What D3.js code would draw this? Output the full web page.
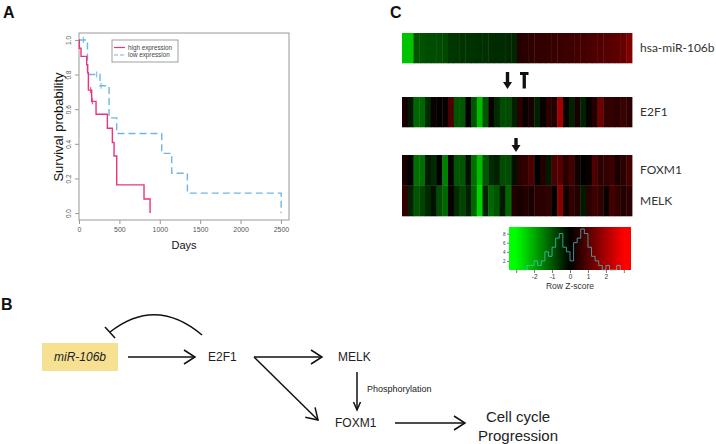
<!DOCTYPE html>
<html><head><meta charset="utf-8">
<script src="https://cdn.jsdelivr.net/npm/d3@7/dist/d3.min.js"></script>
<style>body{margin:0;background:#fff}svg{display:block}</style>
</head><body><svg id="c" width="716" height="444"></svg>
<script>
// ---------- Panel A data ----------
const highTimes = [0, 4, 25, 95, 107, 116, 157, 211, 351, 413, 434, 467, 805, 880];
const highSurv  = [1, 0.952, 0.905, 0.857, 0.81, 0.71, 0.645, 0.571, 0.49, 0.408, 0.33, 0.163, 0.081, 0];
const lowTimes  = [0, 105, 260, 372, 467, 1024, 1148, 1342, 2503];
const lowSurv   = [1, 0.8, 0.735, 0.55, 0.46, 0.345, 0.23, 0.115, 0];
const highCensorT = [145, 165];
const highCensorS = [0.71, 0.645];
const lowCensorT = [54, 219, 273];
const lowCensorS = [1, 0.8, 0.735];
const kmXTicks = [0, 500, 1000, 1500, 2000, 2500];
const kmYTicks = [0, 0.2, 0.4, 0.6, 0.8, 1.0];
const legendLabels = ["high expression", "low expression"];

// ---------- Panel C data ----------
const geneNames = ["hsa-miR-106b", "E2F1", "FOXM1", "MELK"];
const mirRow = [-2.3,-2.3,-0.95,-0.95,-0.9,-0.9,-0.88,-0.85,-0.65,-0.62,-0.6,-0.6,-0.58,-0.56,-0.55,-0.52,-0.5,-0.5,-0.48,-0.45,
                0.45,0.5,0.55,0.58,0.6,0.62,0.65,0.68,0.7,0.72,0.75,0.8,0.85,0.9,0.95,1.0,1.05,1.1,1.2,1.5];
const e2f1Row = [0.3,-0.3,-1.2,-1.2,-0.5,0.1,0.05,0.1,0.9,-1.0,-1.0,0.0,-1.0,-2.2,-1.0,0.1,-0.5,-0.9,-0.9,-0.4,
                 0.5,0.1,0.3,-0.4,0.1,0.5,0.4,1.9,0.1,-0.4,0.3,-0.4,0.1,0.4,1.3,0.6,0.6,0.5,0.7,0.5];
const foxm1Row = [0.3,0,-1.3,-1.3,-0.3,-0.5,0,-1.5,0.1,-1.0,-1.0,-0.2,-1.3,-2.2,-1.0,-0.5,-0.4,-0.9,-0.9,-0.2,
                  0.5,0.6,0.9,0,0.4,-0.3,0.9,1.0,0.5,0.8,0.2,0,0.1,0.9,0.5,0.6,0.7,0.3,0.5,0.8];
const melkRow = [0.6,-0.4,-1.0,-0.8,-0.5,-0.2,-0.9,-1.2,0.1,-0.5,-0.8,-0.4,-1.2,-2.5,-0.4,-1.2,-1.0,-0.3,-1.2,0.4,
                 0.3,0.4,0.3,0.5,0.5,0.6,0,1.6,0.2,0.6,0.4,-0.3,0.5,0.7,0.6,0.1,0.8,0.6,0.4,0.5];
const histBinStart = [-2.6,-2.4,-2.2,-2.0,-1.8,-1.6,-1.4,-1.2,-1.0,-0.8,-0.6,-0.4,-0.2,0.0,0.2,0.4,0.6,0.8,1.0,1.2,1.4,1.6,1.8,2.0,2.2,2.4,2.6];
const histCounts   = [0,1,1,2,1,2,4,3,5,7,8,5,4,2,6,7,9,8,5,3,2,1,0,1,0,0,1];
const keyTicks = [-3,-2,-1,0,1,2,3];
const keyLabels = ["", "-2", "-1", "0", "1", "2", ""];
const histYTicks = [2,4,6,8];

const svg = d3.select("#c");
const SANS = "Arial, 'Liberation Sans', sans-serif";

// Panel letters
[["A",3,18],["B",1,310],["C",390,18]].forEach(([t,x,y]) =>
  svg.append("text").attr("x",x).attr("y",y).text(t)
    .attr("font-family",SANS).attr("font-weight","bold").attr("font-size",16).attr("fill","#111"));

// ================= Panel A =================
const xA = d3.scaleLinear().domain([0,2600]).range([79,289]);
const yA = d3.scaleLinear().domain([-0.04,1.04]).range([220,33]);
const gA = svg.append("g");
gA.append("rect").attr("x",79).attr("y",33).attr("width",210).attr("height",187)
  .attr("fill","none").attr("stroke","#999").attr("stroke-width",1);
const xAxisA = gA.append("g").attr("transform","translate(0,220)")
  .call(d3.axisBottom(xA).tickValues(kmXTicks).tickSize(4).tickPadding(3).tickFormat(d3.format("d")));
xAxisA.select(".domain").remove();
xAxisA.selectAll("line").attr("stroke","#999");
xAxisA.selectAll("text").attr("font-size",7).attr("fill","#555").attr("font-family",SANS);
const yAxisA = gA.append("g").attr("transform","translate(79,0)")
  .call(d3.axisLeft(yA).tickValues(kmYTicks).tickSize(4).tickFormat(d3.format(".1f")));
yAxisA.select(".domain").remove();
yAxisA.selectAll("line").attr("stroke","#999");
yAxisA.selectAll("text").attr("font-size",6.5).attr("fill","#555").attr("font-family",SANS)
  .attr("text-anchor","middle").attr("x",0).attr("y",0).attr("dy","0.35em")
  .attr("transform","translate(-10,0) rotate(-90)");
gA.append("text").attr("transform","translate(63,127) rotate(-90)").attr("text-anchor","middle")
  .attr("font-family",SANS).attr("font-size",13).attr("fill","#111").text("Survival probability");
gA.append("text").attr("x",184).attr("y",249).attr("text-anchor","middle")
  .attr("font-family",SANS).attr("font-size",11).attr("fill","#111").text("Days");

const stepLine = d3.line().x(d=>xA(d[0])).y(d=>yA(d[1])).curve(d3.curveStepAfter);
const highPts = highTimes.map((t,i)=>[t,highSurv[i]]);
const lowPts = lowTimes.map((t,i)=>[t,lowSurv[i]]);
const HIGH_C = "#e8357f", LOW_C = "#6db6ea";
gA.append("path").attr("d",stepLine(lowPts)).attr("fill","none").attr("stroke",LOW_C)
  .attr("stroke-width",1.4).attr("stroke-dasharray","7,4");
gA.append("path").attr("d",stepLine(highPts)).attr("fill","none").attr("stroke",HIGH_C).attr("stroke-width",1.4);
highCensorT.forEach((t,i)=> gA.append("line").attr("x1",xA(t)).attr("x2",xA(t))
  .attr("y1",yA(highCensorS[i])-3).attr("y2",yA(highCensorS[i])+3).attr("stroke",HIGH_C).attr("stroke-width",1));
lowCensorT.forEach((t,i)=> gA.append("line").attr("x1",xA(t)).attr("x2",xA(t))
  .attr("y1",yA(lowCensorS[i])-3).attr("y2",yA(lowCensorS[i])+3).attr("stroke",LOW_C).attr("stroke-width",1));

// legend
gA.append("rect").attr("x",112).attr("y",40).attr("width",66).attr("height",22)
  .attr("fill","#fff").attr("stroke","#888").attr("stroke-width",0.8);
legendLabels.forEach((lab,i)=>{
  const y = 47.5 + i*7.5;
  gA.append("line").attr("x1",114).attr("x2",125).attr("y1",y).attr("y2",y)
    .attr("stroke", i===0?HIGH_C:LOW_C).attr("stroke-width",1.2)
    .attr("stroke-dasharray", i===0?null:"4,2");
  gA.append("text").attr("x",128).attr("y",y).attr("dy","0.35em").attr("font-size",6.3)
    .attr("font-family",SANS).attr("fill","#444").text(lab);
});

// ================= Panel C =================
const color = d3.scaleLinear().domain([-3,0,3]).range(["#00ff00","#000000","#ff0000"]).clamp(true);
const cols = d3.range(mirRow.length);
const xC = d3.scaleBand().domain(cols).range([402,632]);
const rowsC = [
  {name:geneNames[0], vals:mirRow,   y0:33,    y1:63},
  {name:geneNames[1], vals:e2f1Row,  y0:97,    y1:127},
  {name:geneNames[2], vals:foxm1Row, y0:155,   y1:185.5},
  {name:geneNames[3], vals:melkRow,  y0:185.5, y1:216}
];
const gC = svg.append("g");
rowsC.forEach(r=>{
  gC.selectAll(null).data(r.vals).enter().append("rect")
    .attr("x",(d,i)=>xC(i)).attr("y",r.y0).attr("width",xC.bandwidth()+0.4).attr("height",r.y1-r.y0+0.3)
    .attr("fill",d=>color(d));
  gC.append("text").attr("x",640).attr("y",(r.y0+r.y1)/2).attr("dy","0.35em")
    .attr("font-family","Lato, 'Open Sans', sans-serif").attr("font-size",12).attr("fill","#333").text(r.name);
});
// arrows between rows
function thickDown(cx, yTop, yBot){
  gC.append("rect").attr("x",cx-1.7).attr("y",yTop).attr("width",3.4).attr("height",yBot-yTop-6).attr("fill","#111");
  gC.append("path").attr("d",`M${cx-4.5},${yBot-7} L${cx+4.5},${yBot-7} L${cx},${yBot} Z`).attr("fill","#111");
}
thickDown(507.5, 72, 89);
thickDown(516, 138, 152);
gC.append("rect").attr("x",520).attr("y",72).attr("width",8.5).attr("height",3).attr("fill","#111");
gC.append("rect").attr("x",522.6).attr("y",72).attr("width",3.3).attr("height",16.5).attr("fill","#111");

// colour key
const xK = d3.scaleLinear().domain([-3.4,3.4]).range([509,631]);
const yK = d3.scaleLinear().domain([0,9]).range([270,229]);
const defs = svg.append("defs");
const grad = defs.append("linearGradient").attr("id","kg").attr("x1","0%").attr("x2","100%");
d3.range(0,1.0001,0.05).forEach(f=>{
  grad.append("stop").attr("offset",(f*100)+"%").attr("stop-color",color(-3.4+6.8*f));
});
gC.append("rect").attr("x",xK(-3.4)).attr("y",227).attr("width",xK(3.4)-xK(-3.4)).attr("height",43)
  .attr("fill","url(#kg)");
const histPts = [];
histBinStart.forEach((b,i)=>{ histPts.push([b,histCounts[i]]); });
histPts.push([histBinStart[histBinStart.length-1]+0.2, 0]);
const histLine = d3.line().x(d=>xK(d[0])).y(d=>yK(d[1])).curve(d3.curveStepAfter);
gC.append("path").attr("d",histLine(histPts)).attr("fill","none").attr("stroke","#4fc7c9")
  .attr("stroke-width",0.8).attr("opacity",0.9);
const kAx = gC.append("g").attr("transform","translate(0,270)")
  .call(d3.axisBottom(xK).tickValues(keyTicks).tickSize(3).tickPadding(1.5).tickFormat((d,i)=>keyLabels[i]));
kAx.select(".domain").remove();
kAx.selectAll("line").attr("stroke","#777");
kAx.selectAll("text").attr("font-size",6.5).attr("fill","#333").attr("font-family",SANS);
const kyAx = gC.append("g").attr("transform",`translate(${xK(-3.4)},0)`)
  .call(d3.axisLeft(yK).tickValues(histYTicks).tickSize(2).tickPadding(1.5));
kyAx.select(".domain").remove();
kyAx.selectAll("line").attr("stroke","#777");
kyAx.selectAll("text").attr("font-size",4.5).attr("fill","#333").attr("font-family",SANS);
gC.append("text").attr("x",570).attr("y",289).attr("text-anchor","middle")
  .attr("font-family",SANS).attr("font-size",8.5).attr("fill","#333").text("Row Z-score");

// ================= Panel B =================
const gB = svg.append("g").attr("fill","none").attr("stroke","#111").attr("stroke-width",1.5);
function openArrow(x1,y1,x2,y2,len=11,half=7){
  gB.append("line").attr("x1",x1).attr("y1",y1).attr("x2",x2).attr("y2",y2);
  const a = Math.atan2(y2-y1,x2-x1);
  const bx = x2 - len*Math.cos(a), by = y2 - len*Math.sin(a);
  const px = -Math.sin(a)*half, py = Math.cos(a)*half;
  gB.append("path").attr("d",`M${bx+px},${by+py} L${x2},${y2} L${bx-px},${by-py}`);
}
svg.insert("rect","g").attr("x",42).attr("y",343).attr("width",76).attr("height",28).attr("fill","#f6e193");
svg.append("text").attr("x",80).attr("y",357).attr("dy","0.35em").attr("text-anchor","middle")
  .attr("font-family",SANS).attr("font-style","italic").attr("font-size",12).attr("fill","#222").text("miR-106b");
openArrow(128,357,195,357);
openArrow(254,357,322,357);
openArrow(254,357,318,420);
openArrow(357,372,357,410,8,3.5);
openArrow(395,423,465,423);
gB.append("path").attr("d","M202,335 Q156,296 110,332");
gB.append("line").attr("x1",105).attr("y1",327).attr("x2",115).attr("y2",338);
const bText = [["E2F1",208,357,12,"start"],["MELK",338,357,12,"start"],["FOXM1",335,423,12,"start"],
  ["Phosphorylation",367,389,9,"start"],["Cell cycle",518,417,15,"middle"],["Progression",518,436,15,"middle"]];
bText.forEach(([t,x,y,fs,anc])=> svg.append("text").attr("x",x).attr("y",y).attr("dy","0.35em")
  .attr("text-anchor",anc).attr("font-family",SANS).attr("font-size",fs).attr("fill","#222").text(t));
</script></body></html>
